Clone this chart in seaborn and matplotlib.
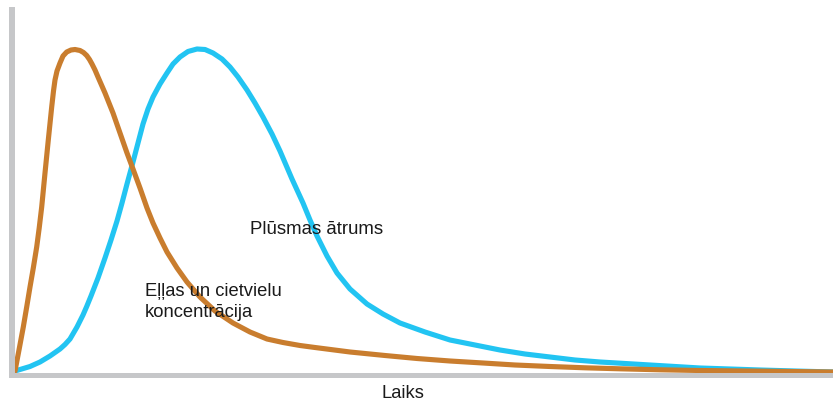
import matplotlib
matplotlib.use("Agg")
import matplotlib.pyplot as plt
import seaborn as sns
import pandas as pd

# Time axis (arbitrary units) and curve values
conc_time = [0, 4, 8.3, 11.7, 15, 18.3, 21.7, 24.2, 26.7, 30, 33.3, 36.7, 38.5, 40, 42, 45, 48, 51.7,
             56, 60, 65, 68.5, 71.7, 74.5, 77, 80, 83, 90, 98, 105, 112, 118, 125, 132, 138, 145, 152,
             162, 172, 185, 200, 218, 235, 252, 268, 285, 300, 335, 370, 402, 435, 468, 500, 535, 570,
             605, 645, 685, 750, 818]
conc_value = [0, 21, 44, 64, 84, 103, 124, 143, 164, 198, 231, 264, 280, 291, 300, 308, 315, 319,
              321, 321.5, 320.5, 318.5, 315.5, 311.5, 307, 301, 294, 278, 258, 238, 218, 202, 183, 163,
              148, 133, 119, 103, 89, 74, 60, 48, 39, 32, 28.5, 25.5, 23.5, 19, 15.5, 12.5, 10, 8, 6,
              4.5, 3.2, 2.2, 1.2, 0.5, -0.2, -1]

flow_time = [0, 5, 10, 15, 25, 35, 45, 50, 55, 62, 68, 71.7, 76, 83, 90, 96, 102, 107, 112, 118, 123,
             128, 133, 138, 145, 152, 158, 165, 173, 182, 190, 198, 207, 215, 223, 232, 240, 248, 257,
             265, 277, 288, 295, 302, 312, 322, 335, 352, 368, 385, 410, 435, 460, 485, 510, 535, 560,
             585, 610, 635, 660, 685, 715, 745, 780, 818]
flow_value = [0, 1.5, 3, 4.5, 9, 15, 22, 26.5, 32, 44, 56, 64.5, 75, 93, 113, 131, 150, 168, 187, 209,
              228, 247, 262, 274, 287, 298, 307, 314, 319.5, 322, 321.5, 318, 312, 304, 294, 281, 268,
              254, 237, 220, 192, 168, 151, 135, 115, 98, 82, 67, 57, 48, 39, 31, 26, 21, 17, 14, 11,
              9, 7.5, 6, 4.5, 3, 2, 1, 0, -1]

conc_label = "Eļļas un cietvielu\nkoncentrācija"
flow_label = "Plūsmas ātrums"
x_label = "Laiks"

conc_color = "#C97D2E"
flow_color = "#22C4F2"
spine_color = "#C6C7C9"
text_color = "#1a1a1a"

sns.set_style("white")
plt.rcParams["font.family"] = ["Liberation Sans", "DejaVu Sans"]

W, H = 833, 401
fig = plt.figure(figsize=(W / 100, H / 100), dpi=100)
# axes: left edge at px 12, bottom edge at py 374.5, top at py 10, right at px 833
ax = fig.add_axes([12 / W, (H - 374.5) / H, (W - 12) / W, (374.5 - 10) / H])

df_conc = pd.DataFrame({"t": conc_time, "v": conc_value})
df_flow = pd.DataFrame({"t": flow_time, "v": flow_value})

sns.lineplot(data=df_flow, x="t", y="v", ax=ax, color=flow_color, lw=3.7,
             estimator=None, sort=False, solid_capstyle="round", solid_joinstyle="round")
sns.lineplot(data=df_conc, x="t", y="v", ax=ax, color=conc_color, lw=3.7,
             estimator=None, sort=False, solid_capstyle="round", solid_joinstyle="round")

ax.set_xlim(-3, 818)
ax.set_ylim(-3.5, 361)
ax.set_xticks([])
ax.set_yticks([])
ax.set_xlabel("")
ax.set_ylabel("")

for s in ["top", "right"]:
    ax.spines[s].set_visible(False)
ax.spines["left"].set_color(spine_color)
ax.spines["left"].set_linewidth(4.3)
ax.spines["bottom"].set_color(spine_color)
ax.spines["bottom"].set_linewidth(3.6)

ax.text(235, 142, flow_label, fontsize=13.4, color=text_color, ha="left", va="center", zorder=5)
ax.text(130, 69, conc_label, fontsize=13.2, color=text_color, ha="left", va="center",
        linespacing=1.28, zorder=5)

fig.text(403 / W, (H - 393) / H, x_label, fontsize=13.2, color=text_color, ha="center", va="center")

fig.savefig("out.png", dpi=100)
